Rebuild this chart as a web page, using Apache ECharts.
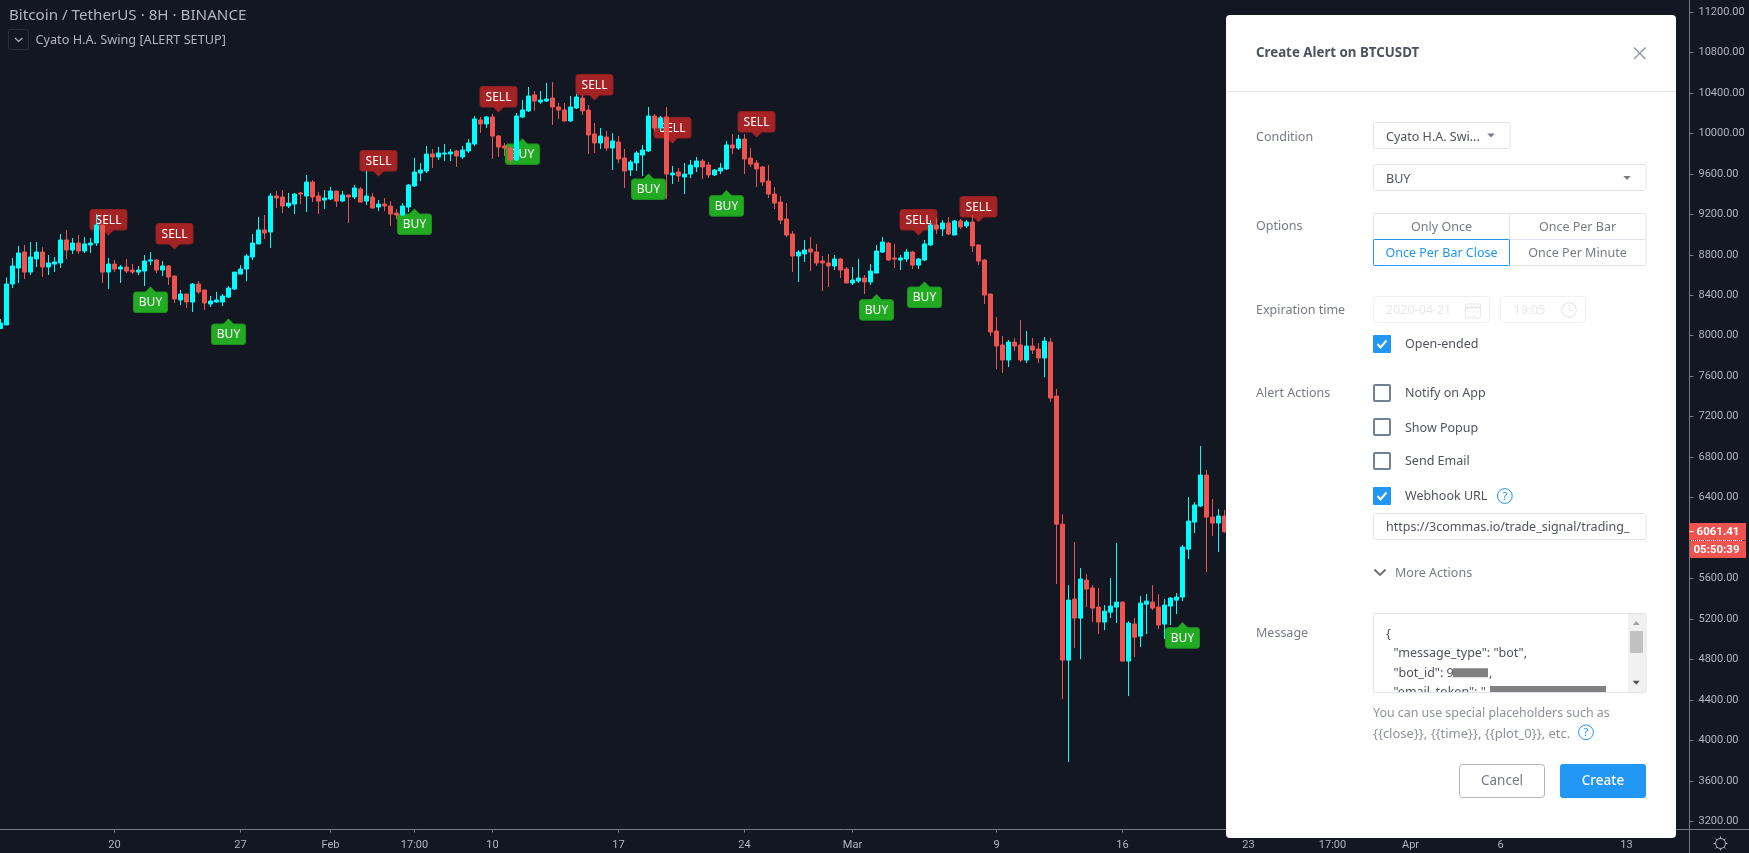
<!DOCTYPE html>
<html>
<head>
<meta charset="utf-8">
<title>BTCUSDT alert</title>
<style>html,body{margin:0;padding:0;background:#131722;overflow:hidden}#c{width:1749px;height:853px}</style>
<script src="https://cdn.jsdelivr.net/npm/echarts@6/dist/echarts.min.js"></script>
</head>
<body>
<div id="c"></div>
<script>
const opens = [8072,8106,8511,8669,8827,8629,8758,8827,8679,8708,8719,8946,8847,8916,8837,8897,8916,9094,8629,8708,8659,8679,8649,8629,8639,8738,8748,8649,8689,8590,8353,8412,8333,8511,8452,8313,8333,8333,8382,8461,8609,8659,8778,8907,9045,9025,9381,9371,9282,9301,9411,9381,9519,9381,9341,9351,9430,9331,9391,9371,9450,9331,9371,9272,9301,9282,9212,9193,9272,9480,9608,9628,9796,9767,9796,9796,9826,9767,9826,9895,10133,10093,10162,9974,9875,9855,9737,10162,10222,10380,10310,10320,10350,10261,10231,10123,10251,10350,10231,9994,9905,9964,9855,9915,9757,9638,9707,9786,9826,10172,10053,10162,9589,9618,9569,9598,9668,9727,9687,9589,9628,9648,9885,9855,9944,9757,9707,9668,9529,9400,9321,9153,9005,8788,8808,8857,8827,8738,8719,8689,8758,8659,8521,8540,8570,8531,8619,8827,8916,8768,8748,8758,8827,8698,8748,8897,9094,9055,9114,8995,9134,9085,9124,8897,8748,8412,8046,7908,7759,7937,7908,7759,7898,7868,7779,7937,7403,6137,4793,5396,5208,5584,5505,5317,5169,5267,5317,5366,4783,5149,5030,5346,5366,5317,5149,5327,5386,5416,5890,6157,6316,6622,6207,6148,6217];
const closes = [8125,8511,8689,8818,8629,8778,8827,8679,8719,8729,8946,8847,8916,8837,8907,8916,9094,8629,8708,8659,8679,8639,8629,8649,8738,8748,8649,8689,8580,8363,8412,8333,8511,8432,8323,8343,8353,8392,8471,8629,8659,8788,8916,9045,9015,9381,9361,9282,9311,9400,9400,9519,9371,9331,9361,9430,9331,9391,9371,9460,9321,9381,9262,9301,9282,9203,9193,9282,9490,9618,9638,9796,9767,9806,9806,9816,9776,9836,9905,10143,10093,10162,9974,9865,9855,9737,10172,10231,10370,10320,10330,10340,10261,10231,10123,10261,10360,10222,9984,9905,9974,9855,9925,9747,9628,9717,9806,9836,10172,10053,10152,9598,9608,9579,9598,9687,9727,9668,9589,9638,9658,9885,9855,9944,9747,9697,9648,9519,9400,9311,9143,8995,8788,8827,8847,8827,8719,8719,8689,8758,8649,8521,8550,8570,8531,8639,8837,8926,8748,8758,8768,8827,8698,8758,8907,9094,9055,9114,9005,9134,9075,9124,8887,8738,8402,8036,7898,7759,7937,7898,7759,7898,7858,7779,7947,7384,6137,4793,5386,5208,5594,5495,5307,5169,5277,5327,5366,4783,5159,5020,5356,5376,5307,5139,5337,5406,5416,5910,6167,6326,6622,6207,6148,6217,6061.41];
const lows = [8066,8106,8471,8521,8560,8600,8679,8580,8600,8629,8669,8758,8808,8808,8818,8818,8887,8521,8461,8629,8521,8619,8609,8600,8491,8698,8619,8590,8501,8323,8303,8274,8234,8412,8254,8284,8323,8293,8372,8452,8609,8540,8748,8907,8956,8867,9262,9212,9262,9203,9301,9223,9321,9203,9252,9341,9272,9321,9114,9351,9321,9292,9262,9232,9232,9085,9153,9183,9223,9470,9529,9608,9658,9737,9727,9727,9668,9747,9806,9875,10004,10053,9747,9767,9776,9697,9727,10152,10212,10222,10291,10310,10083,10142,10113,10113,10241,10182,9796,9806,9846,9826,9638,9707,9460,9579,9628,9579,9816,10024,10014,9351,9500,9519,9400,9559,9618,9549,9559,9579,9598,9638,9796,9836,9598,9668,9470,9480,9361,9252,9104,8976,8629,8531,8728,8639,8689,8442,8481,8649,8570,8521,8501,8521,8412,8501,8619,8818,8738,8669,8649,8728,8659,8659,8738,8887,9005,8985,8995,8995,9055,9065,8827,8698,8313,7997,7670,7631,7690,7848,7739,7730,7819,7730,7591,7344,5545,4407,3785,4911,4803,5317,5169,5050,5090,5208,5159,4783,4437,4823,4921,5050,5287,5100,5001,5139,5248,5376,5792,6049,6306,5663,6019,5861,6049];
const highs = [8165,8577,8768,8887,8897,8926,8926,8874,8798,8778,9005,9045,8966,8995,8976,8966,9203,9094,8768,8748,8698,8758,8708,8689,8798,8827,8758,8738,8698,8590,8452,8412,8521,8540,8452,8392,8432,8412,8491,8629,8698,8808,9005,9173,9193,9411,9430,9440,9411,9411,9420,9589,9539,9420,9440,9470,9430,9430,9391,9490,9470,9628,9411,9341,9361,9331,9252,9311,9500,9758,9707,9875,9846,9865,9895,9846,9836,9875,9944,10172,10162,10172,10192,9984,9905,9865,10202,10330,10459,10419,10419,10498,10508,10301,10301,10370,10390,10380,10281,10103,10053,10024,10004,9974,9846,9737,9826,9885,10261,10192,10172,10261,9677,9658,9707,9737,9767,9747,9717,9648,9707,9925,9994,9984,9994,9855,9737,9677,9687,9470,9381,9311,9035,8847,8946,8976,8907,8788,8808,8798,8768,8679,8679,8758,8600,8708,8897,8976,8926,8907,8798,8857,8837,8768,8946,9143,9163,9143,9173,9143,9153,9143,9193,8897,8758,8412,8185,7997,7957,7977,8155,8046,7977,7927,7987,7977,7473,6236,5534,5960,5703,5643,5534,5505,5337,5604,5950,5376,5179,5208,5426,5446,5534,5446,5396,5416,5456,5930,6405,6355,6909,6672,6385,6286,6276];
const sellBars = [18,29,63,83,99,112,126,153,163];
const sellPrices = [8992,8854,9575,10208,10327,9902,9961,8992,9121];
const buyBars = [25,38,69,87,108,121,146,154,197];
const buyPrices = [8484,8168,9255,9948,9602,9437,8409,8534,5166];
const priceTicks = [3200,3600,4000,4400,4800,5200,5600,6000,6400,6800,7200,7600,8000,8400,8800,9200,9600,10000,10400,10800,11200];
const timeTickBars = [19,40,55,69,82,103,124,142,166,187,208,222,235,250,271];
const timeTickLabels = ['20','27','Feb','17:00','10','17','24','Mar','9','16','23','17:00','Apr','6','13'];
const barSlots = 282;
const lastPrice = '6061.41';
const countdown = '05:50:39';

const UI = '"Noto Sans", sans-serif';
const categories = [];
for (let i = 0; i < barSlots; i++) {
  const k = timeTickBars.indexOf(i);
  categories.push(k >= 0 ? timeTickLabels[k] : 'b' + i);
}
const isTick = (i) => timeTickBars.indexOf(i) >= 0;
const ohlc = opens.map((o, i) => [o, closes[i], lows[i], highs[i]]);

function markerRenderer(text, fill, edge, width, up) {
  return function (params, api) {
    const p = api.coord([api.value(0), api.value(1)]);
    const x = p[0], y = p[1];
    const h = 20.5, gap = 5.3, hw = width / 2;
    const top = up ? y + gap : y - gap - h;
    const tip = up
      ? [[x - 5.5, y + gap + .5], [x, y], [x + 5.5, y + gap + .5]]
      : [[x - 5.5, y - gap - .5], [x, y], [x + 5.5, y - gap - .5]];
    return { type: 'group', children: [
      { type: 'rect', shape: { x: x - hw, y: top, width: width, height: h, r: 2.5 }, style: { fill: fill, stroke: edge, lineWidth: 1 } },
      { type: 'polygon', shape: { points: tip }, style: { fill: fill, stroke: fill, lineWidth: .5 } },
      { type: 'text', style: { text: text, x: x, y: top + h / 2 + .5, fill: '#ffffff', font: '12px ' + UI, align: 'center', verticalAlign: 'middle', textAlign: 'center', textVerticalAlign: 'middle' } }
    ] };
  };
}

/* ---- overlay UI (header, alert dialog) ---- */
const g = [];
let zc = 100;
function rect(x, y, w, h, o) { g.push({ type: 'rect', z: zc++, silent: true, shape: { x, y, width: w, height: h, r: o.r || 0 }, style: { fill: o.fill || 'none', stroke: o.stroke || 'none', lineWidth: o.lw || 1 } }); }
function text(x, y, s, o) {
  o = o || {};
  const a = o.align || 'left';
  g.push({ type: 'text', z: zc++, silent: true, style: { text: s, x, y: y + 1, fill: o.fill || '#50535e', font: (o.weight ? o.weight + ' ' : '') + (o.size || 12.5) + 'px ' + (o.family || UI), align: a, verticalAlign: 'middle', textAlign: a, textVerticalAlign: 'middle' } });
}
function poly(points, stroke, lw, dash) { g.push({ type: 'polyline', z: zc++, silent: true, shape: { points }, style: { stroke, lineWidth: lw || 1, fill: 'none', lineDash: dash || null } }); }
function tri(cx, cy, w, h, fill, upward) { const pts = upward ? [[cx - w / 2, cy + h / 2], [cx + w / 2, cy + h / 2], [cx, cy - h / 2]] : [[cx - w / 2, cy - h / 2], [cx + w / 2, cy - h / 2], [cx, cy + h / 2]]; g.push({ type: 'polygon', z: zc++, silent: true, shape: { points: pts }, style: { fill } }); }
function circle(cx, cy, r, o) { g.push({ type: 'circle', z: zc++, silent: true, shape: { cx, cy, r }, style: { fill: o.fill || 'none', stroke: o.stroke || 'none', lineWidth: o.lw || 1 } }); }
function check(x, y, on) {
  if (on) {
    rect(x, y, 18, 18, { fill: '#2196f3', r: 1 });
    poly([[x + 4.5, y + 9], [x + 7.5, y + 12.5], [x + 13.5, y + 5.5]], '#fff', 2);
  } else rect(x + 1, y + 1, 16, 16, { stroke: '#6f8193', lw: 2, r: 1 });
}
function helpIcon(cx, cy) { circle(cx, cy, 7.4, { stroke: '#2196f3', lw: 1 }); text(cx, cy - .5, '?', { fill: '#2196f3', size: 11, align: 'center' }); }

// axis continuation
poly([[1689.5, 829.5], [1689.5, 853]], '#787b86');
poly([[1689.5, 829.5], [1749, 829.5]], '#787b86');
poly([[1689.5, 0], [1689.5, 830]], '#787b86');

// gear
circle(1720.5, 843.5, 5, { stroke: '#b2b5be' });
[[0, -7, 0, -5], [0, 5, 0, 7], [-7, 0, -5, 0], [5, 0, 7, 0], [-5, -5, -3.6, -3.6], [5, 5, 3.6, 3.6], [-5, 5, -3.6, 3.6], [5, -5, 3.6, -3.6]].forEach(s => poly([[1720.5 + s[0], 843.5 + s[1]], [1720.5 + s[2], 843.5 + s[3]]], '#b2b5be'));

// header
text(9, 15, 'Bitcoin / TetherUS · 8H · BINANCE', { fill: '#b2b5be', size: 15.2 });
rect(8.5, 29.5, 20, 20, { stroke: '#2a2e39', r: 2 });
poly([[15, 38], [18.7, 41.5], [22.4, 38]], '#b2b5be', 1.2);
text(35.5, 39, 'Cyato H.A. Swing [ALERT SETUP]', { fill: '#b2b5be', size: 12.7 });

// price tags
rect(1689, 523, 57, 17.5, { fill: '#ef5350' });
rect(1690, 541, 56, 17, { fill: '#ef5350' });
poly([[1689.5, 531.5], [1693.5, 531.5]], '#ffffff');
poly([[1691, 540.5], [1742, 540.5]], '#e6e8ee', 1, [1, 1]);
text(1718, 531.5, lastPrice, { fill: '#fff', size: 11.5, weight: 'bold', family: 'Roboto', align: 'center' });
text(1716.5, 549.5, countdown, { fill: '#fff', size: 11.5, weight: 'bold', family: 'Roboto', align: 'center' });

// dialog
rect(1226, 15, 450, 823, { fill: '#ffffff', r: 4 });
poly([[1226, 91.5], [1676, 91.5]], '#e0e3eb');
text(1256, 52.5, 'Create Alert on BTCUSDT', { weight: 'bold', size: 13.3, fill: '#4c525e' });
poly([[1634, 47.5], [1645.5, 59]], '#9598a1', 1.5);
poly([[1645.5, 47.5], [1634, 59]], '#9598a1', 1.5);

const labelCol = '#787b86', bodyCol = '#50535e', edge = '#e0e3eb';
[['Condition', 136], ['Options', 225.5], ['Expiration time', 309.5], ['Alert Actions', 392.5], ['Message', 632.5]].forEach(r => text(1256, r[1], r[0], { fill: labelCol }));

rect(1373.5, 122.5, 136.5, 26, { stroke: edge, r: 2 });
text(1386, 136, 'Cyato H.A. Swi...', { fill: bodyCol });
tri(1491, 135.5, 7.5, 4, '#787b86');
rect(1373.5, 164.5, 272.5, 26, { stroke: edge, r: 2 });
text(1386, 178, 'BUY', { fill: bodyCol });
tri(1627, 178, 7.5, 4, '#787b86');

rect(1373.5, 213.5, 272.5, 52, { stroke: edge, r: 2 });
poly([[1509.5, 213.5], [1509.5, 265.5]], edge);
poly([[1373.5, 239.5], [1645.5, 239.5]], edge);
rect(1373.5, 239.5, 136, 26, { stroke: '#2196f3', r: 1 });
text(1441.5, 226.5, 'Only Once', { fill: labelCol, align: 'center' });
text(1577.5, 226.5, 'Once Per Bar', { fill: labelCol, align: 'center' });
text(1441.5, 252.5, 'Once Per Bar Close', { fill: '#2196f3', align: 'center' });
text(1577.5, 252.5, 'Once Per Minute', { fill: labelCol, align: 'center' });

const faint = '#e6e8ed';
rect(1373.5, 296.5, 116, 26, { stroke: '#eef0f3', r: 3 });
text(1386, 309.5, '2020-04-21', { fill: faint });
rect(1465.5, 304, 15, 14, { stroke: faint, r: 1 });
poly([[1465.5, 307.5], [1480.5, 307.5]], faint, 2);
[[1469, 311], [1473, 311], [1477, 311], [1469, 315], [1473, 315]].forEach(d => rect(d[0], d[1], 1.5, 1.5, { fill: faint }));
rect(1500.5, 296.5, 85, 26, { stroke: '#eef0f3', r: 3 });
text(1513.5, 309.5, '19:05', { fill: faint });
circle(1569, 310, 7.3, { stroke: faint, lw: 1.2 });
poly([[1569, 305.5], [1569, 310.5], [1573, 310.5]], faint);

check(1373, 335, true);  text(1405, 343.5, 'Open-ended', { fill: bodyCol });
check(1373, 384, false); text(1405, 392.5, 'Notify on App', { fill: bodyCol });
check(1373, 418, false); text(1405, 427, 'Show Popup', { fill: bodyCol });
check(1373, 452, false); text(1405, 460.5, 'Send Email', { fill: bodyCol });
check(1373, 487, true);  text(1405, 495.5, 'Webhook URL', { fill: bodyCol });
helpIcon(1504.8, 496);

text(1386, 526.5, 'https://3commas.io/trade_signal/trading_', { fill: bodyCol });
rect(1633.5, 514, 12, 25, { fill: '#fff' });
rect(1373.5, 513.5, 272.5, 26, { stroke: edge, r: 2 });

poly([[1374.5, 569.5], [1380, 575], [1385.5, 569.5]], '#6a6d78', 1.8);
text(1395, 572.5, 'More Actions', { fill: labelCol });

text(1386, 633, '{', { fill: bodyCol });
text(1393.5, 652.5, '"message_type": "bot",', { fill: bodyCol });
text(1393.5, 672.5, '"bot_id": 9', { fill: bodyCol });
rect(1453, 668.3, 35, 9, { fill: '#808080' });
text(1489, 672.5, ',', { fill: bodyCol });
text(1393.5, 691.5, '"email_token": "', { fill: bodyCol });
rect(1490, 686, 116, 7, { fill: '#808080' });
rect(1374, 693, 272, 8, { fill: '#fff' });
rect(1628, 614, 17.5, 78.5, { fill: '#f1f1f1' });
rect(1630, 631, 13, 22, { fill: '#c1c1c1' });
tri(1636.3, 623, 7, 4, '#a3a3a3', true);
tri(1636.3, 682.7, 7, 4, '#505050');
rect(1373.5, 613.5, 272.5, 79, { stroke: edge, r: 2 });

text(1373, 712.5, 'You can use special placeholders such as', { fill: '#8f929c', size: 12.4 });
text(1373, 733, '{{close}}, {{time}}, {{plot_0}}, etc.', { fill: '#8f929c', size: 13 });
helpIcon(1586, 732.3);

rect(1459.5, 764.5, 85, 33, { stroke: '#b2b5be', r: 3 });
text(1502, 780.5, 'Cancel', { fill: labelCol, size: 13.5, align: 'center' });
rect(1560, 764, 86, 34, { fill: '#2196f3', r: 3 });
text(1603, 780.5, 'Create', { fill: '#fff', size: 13.5, align: 'center', weight: 500 });

const chart = echarts.init(document.getElementById('c'), null, { renderer: 'canvas' });
chart.setOption({
  animation: false,
  backgroundColor: '#131722',
  tooltip: { show: false },
  legend: { show: false },
  grid: { left: -2.5, top: 0, width: 1692, height: 829.5, containLabel: false, outerBoundsMode: 'none' },
  xAxis: {
    type: 'category',
    data: categories,
    boundaryGap: true,
    axisLine: { lineStyle: { color: '#787b86', width: 1 } },
    axisTick: { show: true, length: 3, alignWithLabel: true, interval: (i) => isTick(i), lineStyle: { color: '#787b86' } },
    axisLabel: { interval: (i) => isTick(i), color: '#b2b5be', fontFamily: 'Roboto', fontSize: 11, margin: 10, hideOverlap: false },
    splitLine: { show: false }
  },
  yAxis: {
    type: 'value',
    position: 'right',
    min: 3118.3,
    max: 11318.7,
    scale: true,
    axisLine: { show: false },
    axisTick: { show: true, length: 4, customValues: priceTicks, lineStyle: { color: '#787b86' } },
    axisLabel: { customValues: priceTicks, color: '#b2b5be', fontFamily: 'Roboto', fontSize: 11, margin: 9, padding: [3, 0, 0, 0], formatter: (v) => Number(v).toFixed(2) },
    splitLine: { show: false }
  },
  series: [
    { name: 'SELL', type: 'custom', z: 1, clip: true, silent: true, encode: { x: 0, y: 1 },
      renderItem: markerRenderer('SELL', '#a52324', '#8f2022', 37, false),
      data: sellBars.map((b, i) => [b, sellPrices[i]]) },
    { name: 'BUY', type: 'custom', z: 1, clip: true, silent: true, encode: { x: 0, y: 1 },
      renderItem: markerRenderer('BUY', '#22ab22', '#1f8f20', 34, true),
      data: buyBars.map((b, i) => [b, buyPrices[i]]) },
    { name: 'BTCUSDT', type: 'candlestick', z: 2, silent: true, large: false, clip: true, barWidth: 4,
      itemStyle: { color: '#00ffff', color0: '#ef5350', borderColor: '#00ffff', borderColor0: '#ef5350', borderWidth: 1 },
      data: ohlc }
  ],
  graphic: { elements: g }
});
</script>
</body>
</html>
